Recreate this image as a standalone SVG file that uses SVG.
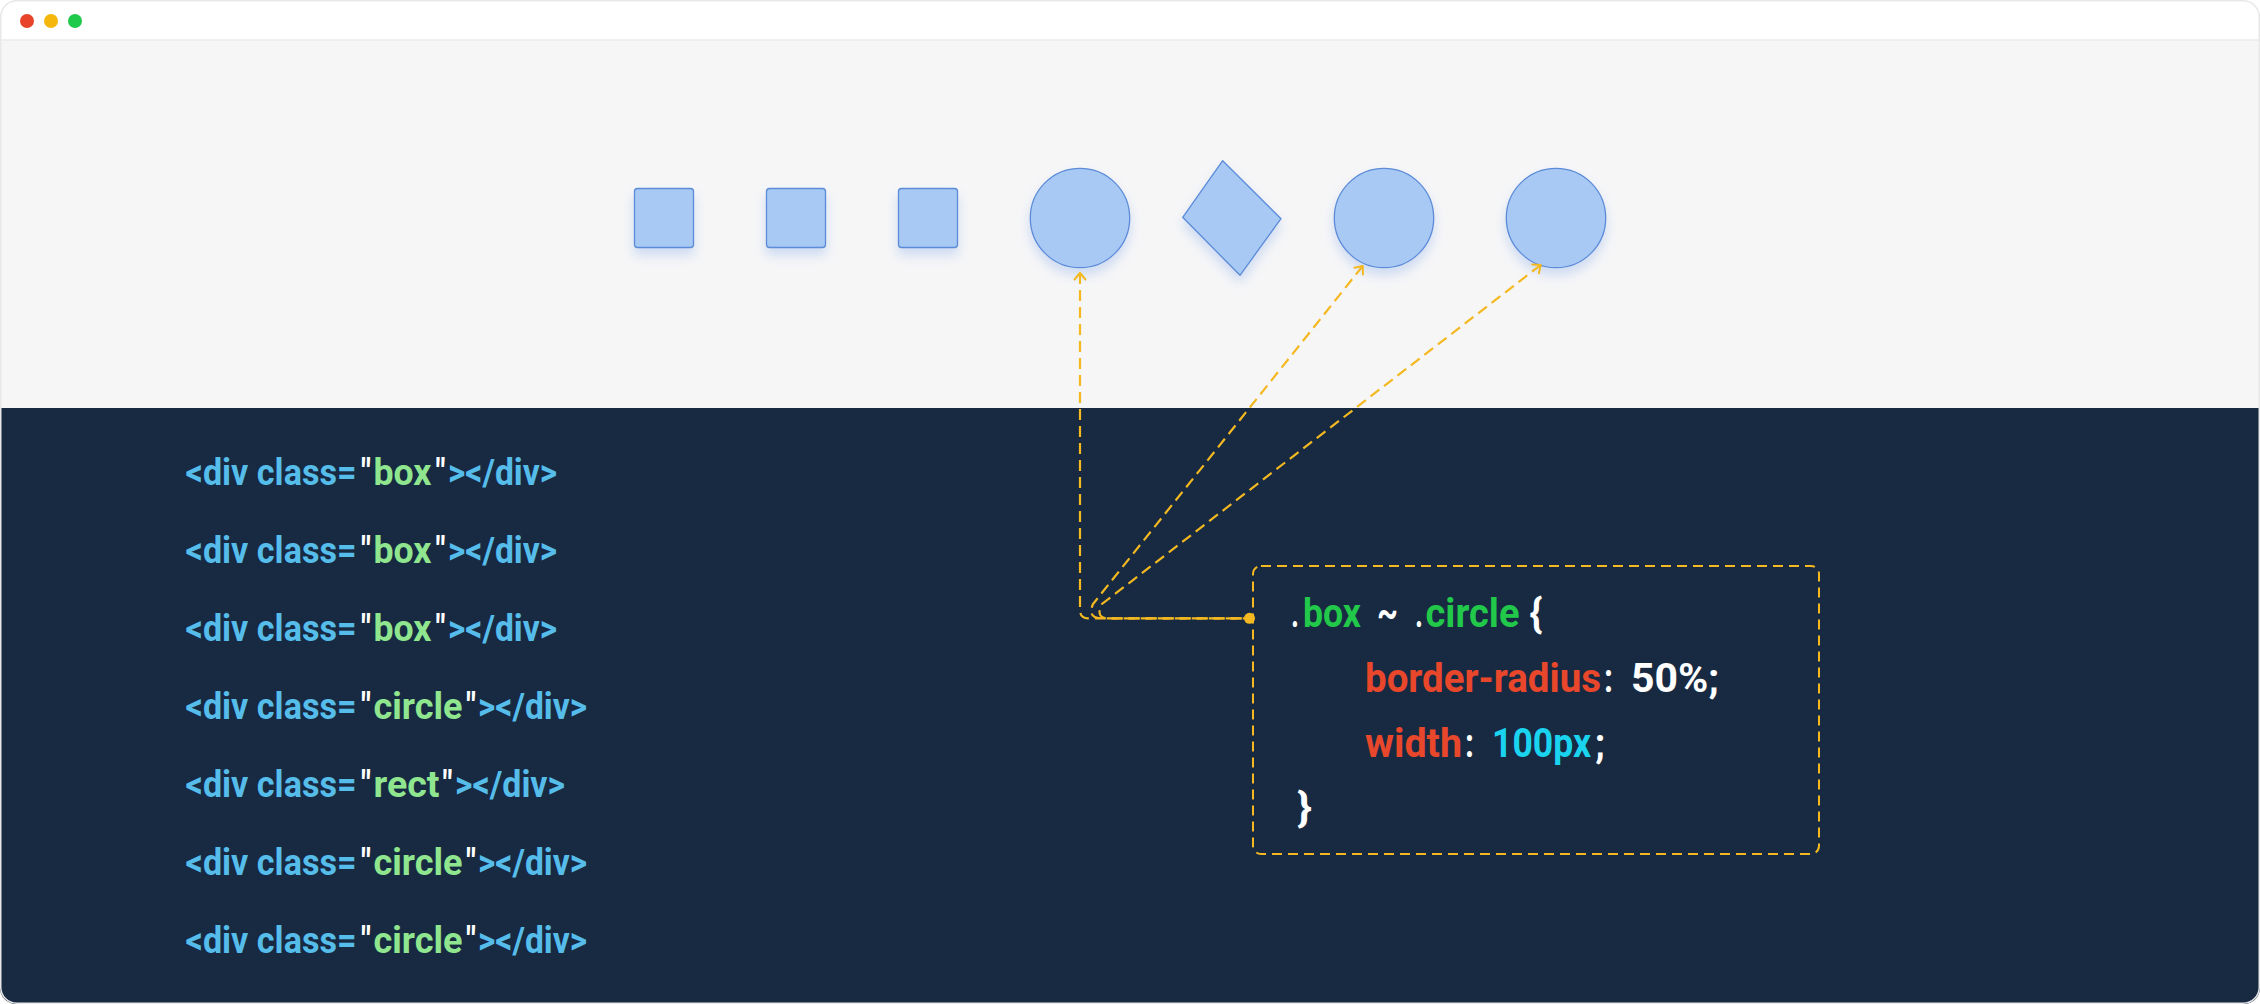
<svg xmlns="http://www.w3.org/2000/svg" width="2260" height="1004" viewBox="0 0 2260 1004">
<style>
.shape{fill:#a9c9f5;stroke:#5b8bd8;stroke-width:1.3}
.conn{fill:none;stroke:#f4b820;stroke-width:2.2;stroke-dasharray:11 6}
.lc text{font-family:Roboto,"Liberation Sans",sans-serif;font-weight:700;font-size:37px}
.rc text{font-family:Roboto,"Liberation Sans",sans-serif;font-weight:700;font-size:40px}
tspan{lengthAdjust:spacingAndGlyphs}
.bl{fill:#56bdeb}.gr{fill:#8fe68f}.wh{fill:#ffffff}.g2{fill:#21c84a}.rd{fill:#e8472b}.cy{fill:#1ad3ef}
</style>
<defs>
<clipPath id="win"><rect x="0" y="0" width="2260" height="1004" rx="16"/></clipPath>
<filter id="sh" x="-40%" y="-40%" width="180%" height="190%">
<feDropShadow dx="0" dy="7" stdDeviation="6" flood-color="#7fa6e8" flood-opacity="0.35"/>
</filter>
<marker id="arr" viewBox="-9 -7 11 14" refX="0" refY="0" markerWidth="11" markerHeight="14" markerUnits="userSpaceOnUse" orient="auto-start-reverse">
<path d="M-6.5,-5.5 L0,0 L-6.5,5.5" fill="none" stroke="#f4b820" stroke-width="2" stroke-linecap="round" stroke-linejoin="round"/>
</marker>
</defs>
<rect width="2260" height="1004" fill="#ffffff"/>
<g id="window" clip-path="url(#win)">
<rect x="0" y="0" width="2260" height="40" fill="#ffffff"/>
<rect x="0" y="40" width="2260" height="368" fill="#f6f6f7"/>
<rect x="0" y="408" width="2260" height="596" fill="#172a42"/>
<line x1="0" y1="40" x2="2260" y2="40" stroke="#ebebeb" stroke-width="1.5"/>
</g>
<rect x="0.75" y="0.75" width="2258.5" height="1002.5" rx="16" fill="none" stroke="#e8e8e8" stroke-width="1.5"/>
<g id="traffic-lights">
<circle cx="27" cy="21" r="7" fill="#e8442b"/>
<circle cx="51" cy="21" r="7" fill="#f6b70d"/>
<circle cx="75" cy="21" r="7" fill="#1fc94a"/>
</g>

<g id="box1" filter="url(#sh)"><rect class="shape" x="634.5" y="188.5" width="59" height="59" rx="3"/></g>
<g id="box2" filter="url(#sh)"><rect class="shape" x="766.5" y="188.5" width="59" height="59" rx="3"/></g>
<g id="box3" filter="url(#sh)"><rect class="shape" x="898.5" y="188.5" width="59" height="59" rx="3"/></g>
<g id="circle1" filter="url(#sh)"><circle class="shape" cx="1080" cy="218" r="49.7"/></g>
<g id="rect" filter="url(#sh)"><polygon class="shape" points="1222.7,160.7 1281,218.7 1240,275.3 1182.7,217.3" stroke-linejoin="round"/></g>
<g id="circle2" filter="url(#sh)"><circle class="shape" cx="1384" cy="218" r="49.7"/></g>
<g id="circle3" filter="url(#sh)"><circle class="shape" cx="1556" cy="218" r="49.7"/></g>

<g id="html-code" class="lc">
<text id="line1" y="484.7"><tspan class="bl" x="185.5" textLength="171" lengthAdjust="spacingAndGlyphs">&lt;div class=</tspan><tspan class="wh" x="361" textLength="10" lengthAdjust="spacingAndGlyphs">"</tspan><tspan class="gr" x="373.5" textLength="58" lengthAdjust="spacingAndGlyphs">box</tspan><tspan class="wh" x="435.5" textLength="10" lengthAdjust="spacingAndGlyphs">"</tspan><tspan class="bl" x="448" textLength="109" lengthAdjust="spacingAndGlyphs">&gt;&lt;/div&gt;</tspan></text>
<text id="line2" y="562.8"><tspan class="bl" x="185.5" textLength="171" lengthAdjust="spacingAndGlyphs">&lt;div class=</tspan><tspan class="wh" x="361" textLength="10" lengthAdjust="spacingAndGlyphs">"</tspan><tspan class="gr" x="373.5" textLength="58" lengthAdjust="spacingAndGlyphs">box</tspan><tspan class="wh" x="435.5" textLength="10" lengthAdjust="spacingAndGlyphs">"</tspan><tspan class="bl" x="448" textLength="109" lengthAdjust="spacingAndGlyphs">&gt;&lt;/div&gt;</tspan></text>
<text id="line3" y="640.9"><tspan class="bl" x="185.5" textLength="171" lengthAdjust="spacingAndGlyphs">&lt;div class=</tspan><tspan class="wh" x="361" textLength="10" lengthAdjust="spacingAndGlyphs">"</tspan><tspan class="gr" x="373.5" textLength="58" lengthAdjust="spacingAndGlyphs">box</tspan><tspan class="wh" x="435.5" textLength="10" lengthAdjust="spacingAndGlyphs">"</tspan><tspan class="bl" x="448" textLength="109" lengthAdjust="spacingAndGlyphs">&gt;&lt;/div&gt;</tspan></text>
<text id="line4" y="719"><tspan class="bl" x="185.5" textLength="171" lengthAdjust="spacingAndGlyphs">&lt;div class=</tspan><tspan class="wh" x="361" textLength="10" lengthAdjust="spacingAndGlyphs">"</tspan><tspan class="gr" x="373.5" textLength="89" lengthAdjust="spacingAndGlyphs">circle</tspan><tspan class="wh" x="466" textLength="10" lengthAdjust="spacingAndGlyphs">"</tspan><tspan class="bl" x="478" textLength="109" lengthAdjust="spacingAndGlyphs">&gt;&lt;/div&gt;</tspan></text>
<text id="line5" y="797.1"><tspan class="bl" x="185.5" textLength="171" lengthAdjust="spacingAndGlyphs">&lt;div class=</tspan><tspan class="wh" x="361" textLength="10" lengthAdjust="spacingAndGlyphs">"</tspan><tspan class="gr" x="373.5" textLength="66" lengthAdjust="spacingAndGlyphs">rect</tspan><tspan class="wh" x="442.5" textLength="10" lengthAdjust="spacingAndGlyphs">"</tspan><tspan class="bl" x="455" textLength="110" lengthAdjust="spacingAndGlyphs">&gt;&lt;/div&gt;</tspan></text>
<text id="line6" y="875.2"><tspan class="bl" x="185.5" textLength="171" lengthAdjust="spacingAndGlyphs">&lt;div class=</tspan><tspan class="wh" x="361" textLength="10" lengthAdjust="spacingAndGlyphs">"</tspan><tspan class="gr" x="373.5" textLength="89" lengthAdjust="spacingAndGlyphs">circle</tspan><tspan class="wh" x="466" textLength="10" lengthAdjust="spacingAndGlyphs">"</tspan><tspan class="bl" x="478" textLength="109" lengthAdjust="spacingAndGlyphs">&gt;&lt;/div&gt;</tspan></text>
<text id="line7" y="953.3"><tspan class="bl" x="185.5" textLength="171" lengthAdjust="spacingAndGlyphs">&lt;div class=</tspan><tspan class="wh" x="361" textLength="10" lengthAdjust="spacingAndGlyphs">"</tspan><tspan class="gr" x="373.5" textLength="89" lengthAdjust="spacingAndGlyphs">circle</tspan><tspan class="wh" x="466" textLength="10" lengthAdjust="spacingAndGlyphs">"</tspan><tspan class="bl" x="478" textLength="109" lengthAdjust="spacingAndGlyphs">&gt;&lt;/div&gt;</tspan></text>
</g>

<g id="connectors">
<path class="conn" d="M1080,273 V610 Q1080,618.3 1088,618.3 H1249" marker-start="url(#arr)"/>
<path class="conn" d="M1362.7,266 L1093,604 C1089,614 1092,618.3 1102,618.3 H1249" marker-start="url(#arr)"/>
<path class="conn" d="M1540.7,265 L1102,604 C1097,614 1100,618.3 1108,618.3 H1249" marker-start="url(#arr)"/>
<circle cx="1249.5" cy="618.3" r="5.5" fill="#f4b820"/>
</g>

<g id="css-code">
<rect x="1253" y="566" width="566" height="288" rx="8" fill="none" stroke="#f4b820" stroke-width="2" stroke-dasharray="10 6"/>
<g class="rc">
<text id="css-line1" y="626.7"><tspan class="wh" x="1291" textLength="8" lengthAdjust="spacingAndGlyphs">.</tspan><tspan class="g2" x="1303" textLength="58" lengthAdjust="spacingAndGlyphs">box</tspan><tspan class="wh" x="1377" textLength="21" lengthAdjust="spacingAndGlyphs">~</tspan><tspan class="wh" x="1415" textLength="8" lengthAdjust="spacingAndGlyphs">.</tspan><tspan class="g2" x="1425.5" textLength="94" lengthAdjust="spacingAndGlyphs">circle</tspan><tspan class="wh" x="1529.5" textLength="13" lengthAdjust="spacingAndGlyphs">{</tspan></text>
<text id="css-line2" y="691.7"><tspan class="rd" x="1365" textLength="236" lengthAdjust="spacingAndGlyphs">border-radius</tspan><tspan class="wh" x="1604" textLength="9" lengthAdjust="spacingAndGlyphs">:</tspan><tspan class="wh" x="1631" textLength="88" lengthAdjust="spacingAndGlyphs">50%;</tspan></text>
<text id="css-line3" y="756.7"><tspan class="rd" x="1365" textLength="97" lengthAdjust="spacingAndGlyphs">width</tspan><tspan class="wh" x="1465" textLength="9" lengthAdjust="spacingAndGlyphs">:</tspan><tspan class="cy" x="1492" textLength="99" lengthAdjust="spacingAndGlyphs">100px</tspan><tspan class="wh" x="1595" textLength="10" lengthAdjust="spacingAndGlyphs">;</tspan></text>
<text id="css-line4" y="821"><tspan class="wh" x="1297" textLength="15" lengthAdjust="spacingAndGlyphs">}</tspan></text>
</g>
</g>
</svg>
